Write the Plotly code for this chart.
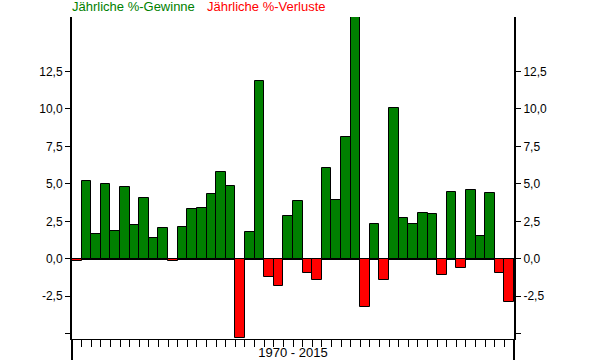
import plotly.graph_objects as go

years = list(range(1970, 2016))
values = [-0.15, 5.18, 1.64, 4.98, 1.84, 4.82, 2.24, 4.04, 1.38, 2.04,
          -0.15, 2.11, 3.31, 3.38, 4.31, 5.78, 4.84, -5.3, 1.78, 11.87,
          -1.22, -1.8, 2.84, 3.84, -0.96, -1.42, 6.04, 3.91, 8.13, 16.2,
          -3.22, 2.31, -1.42, 10.04, 2.71, 2.31, 3.04, 2.98, -1.09, 4.44,
          -0.62, 4.58, 1.51, 4.4, -0.96, -2.89]
tick_vals = [-5, -2.5, 0, 2.5, 5, 7.5, 10, 12.5]
tick_text = ["", "-2,5", "0,0", "2,5", "5,0", "7,5", "10,0", "12,5"]
legend_gain = "Jährliche %-Gewinne"
legend_loss = "Jährliche %-Verluste"
period_label = "1970 - 2015"

GREEN = "#008000"
RED = "#ff0000"
colors = [GREEN if v >= 0 else RED for v in values]
yrange = [-5.35, 16.13]

fig = go.Figure()
fig.add_trace(go.Bar(x=years, y=values, marker=dict(color=colors, line=dict(color="black", width=1)),
                     showlegend=False, hoverinfo="x+y"))
fig.add_trace(go.Scatter(x=years, y=values, yaxis="y2", mode="none", showlegend=False, hoverinfo="skip"))

boundaries = [y - 0.5 for y in years] + [years[-1] + 0.5]
fig.update_layout(
    width=595, height=360,
    margin=dict(l=72, r=81, t=17, b=21),
    paper_bgcolor="white", plot_bgcolor="white",
    font=dict(family="Liberation Sans, Arial, sans-serif", size=12, color="black"),
    bargap=0,
    xaxis=dict(range=[years[0] - 0.5, years[-1] + 0.5], tickvals=boundaries, showticklabels=False,
               ticks="outside", ticklen=7, tickcolor="black", tickwidth=1, automargin=False,
               showline=True, linecolor="black", linewidth=1, showgrid=False, zeroline=False,
               title=dict(text=period_label, standoff=2, font=dict(size=13))),
    yaxis=dict(range=yrange, tickvals=tick_vals, ticktext=tick_text, ticks="outside", ticklen=5,
               tickcolor="black", showline=True, linecolor="black", linewidth=2, showgrid=False,
               automargin=False,
               zeroline=True, zerolinecolor="black", zerolinewidth=2, layer="above traces"),
    yaxis2=dict(range=yrange, tickvals=tick_vals, ticktext=tick_text, ticks="outside", ticklen=5,
                tickcolor="black", overlaying="y", side="right", showline=True, linecolor="black",
                linewidth=2, showgrid=False, zeroline=False, automargin=False),
    shapes=[
        dict(type="line", xref="paper", yref="paper", x0=0, x1=0, y0=-0.08, y1=0, line=dict(color="black", width=2)),
        dict(type="line", xref="paper", yref="paper", x0=1, x1=1, y0=-0.08, y1=0, line=dict(color="black", width=2)),
    ],
    annotations=[
        dict(text=legend_gain, xref="paper", yref="paper", x=0, y=1, xanchor="left", yanchor="bottom",
             xshift=-2, yshift=1, showarrow=False, font=dict(color=GREEN, size=13)),
        dict(text=legend_loss, xref="paper", yref="paper", x=(205 - 72) / 442, y=1, xanchor="left",
             yanchor="bottom", yshift=1, showarrow=False, font=dict(color=RED, size=13)),
    ],
)
fig.write_html("out.html", config={"displayModeBar": False},
               post_script="document.body.style.margin='0';")
